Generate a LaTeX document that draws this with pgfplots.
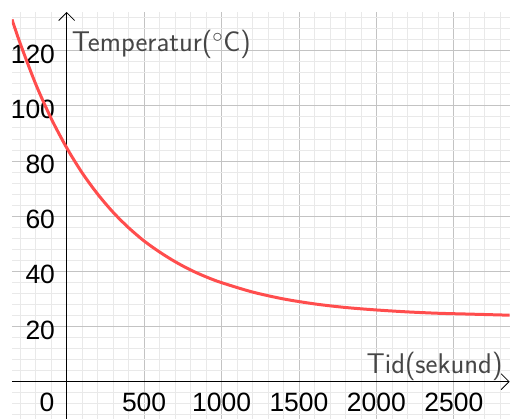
\documentclass[border=0pt]{standalone}
\usepackage{fontspec}
\usepackage{pgfplots}
\pgfplotsset{compat=1.18}
\usetikzlibrary{arrows.meta}
\newfontfamily\tickfont{Liberation Sans}
\definecolor{curvered}{RGB}{255,77,77}
\definecolor{majgrid}{RGB}{195,195,195}
\definecolor{mingrid}{RGB}{233,233,233}
\definecolor{labgray}{RGB}{70,70,70}
\begin{document}
\begin{tikzpicture}
\begin{axis}[
  scale only axis, width=498pt, height=407pt,
  xmin=-353, xmax=2860, ymin=-13.4, ymax=134,
  axis lines*=middle,
  axis line style={black, line width=0.8pt, -{Straight Barb[length=8pt,width=16pt]}},
  xtick={500,1000,1500,2000,2500}, xticklabels={500,1000,1500,2000,2500},
  ytick={20,40,60,80,100,120}, yticklabels={20,40,60,80,100,120},
  minor xtick={-300,-200,...,2800},
  minor ytick={-12,-8,...,132},
  grid=both,
  major grid style={majgrid, line width=0.8pt},
  minor grid style={mingrid, line width=0.8pt},
  major tick length=0pt, minor tick length=0pt,
  tick label style={font=\tickfont\fontsize{26.5}{26.5}\selectfont, inner sep=0pt},
  xticklabel style={anchor=north, yshift=-11.5pt},
  yticklabel style={anchor=east, xshift=-11.5pt, yshift=-3.5pt},
  /pgf/number format/assume math mode=true,
  clip=true,
]
\addplot[curvered, line width=3pt, smooth] coordinates {
(-353,131.3) (-300,122.6) (-200,107.9) (-100,95.4) (0,84.8) (100,75.7)
(200,68.0) (300,61.4) (400,55.8) (500,51.0) (600,47.0) (700,43.5)
(800,40.5) (900,38.0) (1000,35.9) (1200,32.5) (1400,30.0) (1600,28.2)
(1800,26.9) (2000,26.0) (2200,25.3) (2400,24.8) (2600,24.5) (2860,24.1)
};
\node[anchor=base west, inner sep=0pt, text=labgray, font=\sffamily\fontsize{28.5}{28.5}\selectfont, xshift=5pt] at (axis cs:0,119.6) {Temperatur($^\circ$C)};
\node[anchor=base east, inner sep=0pt, text=labgray, font=\sffamily\fontsize{28.5}{28.5}\selectfont] at (axis cs:2815,2.9) {Tid(sekund)};
\node[anchor=north, inner sep=0pt, font=\tickfont\fontsize{26.5}{26.5}\selectfont, xshift=-19.7pt, yshift=-11.5pt] at (axis cs:0,0) {0};
\end{axis}
\path ([xshift=-12pt]current axis.south west) rectangle ([yshift=12pt]current axis.north east);
\end{tikzpicture}
\end{document}
